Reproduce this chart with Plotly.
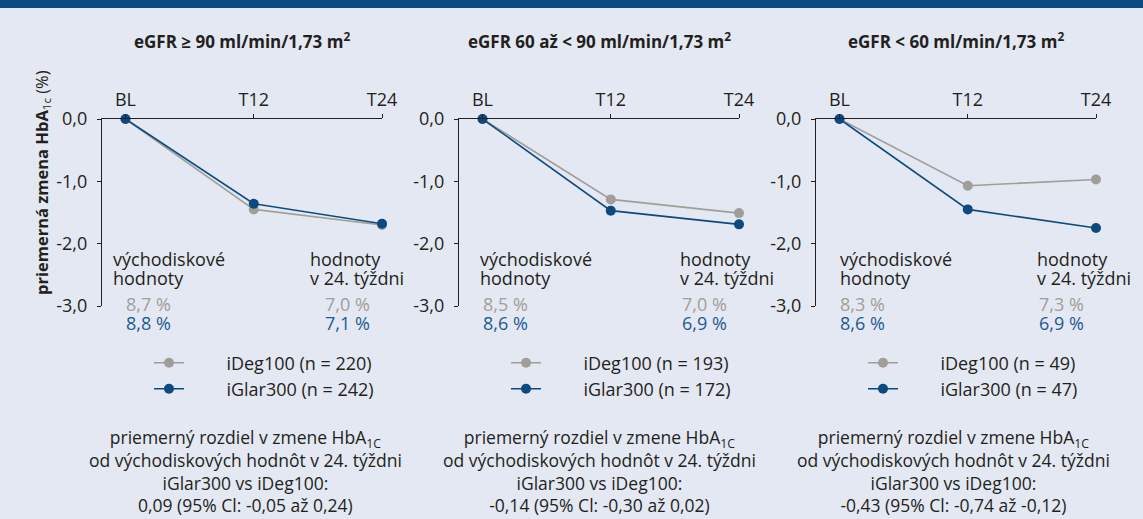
import plotly.graph_objects as go

# ---------------- data ----------------
weeks = [0, 12, 24]
tick_labels = ["BL", "T12", "T24"]
y_tickvals = [0, -1, -2, -3]
y_ticktext = ["0,0", "-1,0", "-2,0", "-3,0"]

panel_titles = [
    "eGFR ≥ 90 ml/min/1,73 m<sup>2</sup>",
    "eGFR 60 až < 90 ml/min/1,73 m<sup>2</sup>",
    "eGFR < 60 ml/min/1,73 m<sup>2</sup>",
]
ideg_change = [[0, -1.45, -1.70], [0, -1.29, -1.51], [0, -1.07, -0.97]]
iglar_change = [[0, -1.36, -1.68], [0, -1.47, -1.69], [0, -1.45, -1.75]]
ideg_n = [220, 193, 49]
iglar_n = [242, 172, 47]
ideg_baseline = ["8,7 %", "8,5 %", "8,3 %"]
iglar_baseline = ["8,8 %", "8,6 %", "8,6 %"]
ideg_week24 = ["7,0 %", "7,0 %", "7,3 %"]
iglar_week24 = ["7,1 %", "6,9 %", "6,9 %"]
diff_text = [
    "0,09 (95% Cl: -0,05 až 0,24)",
    "-0,14 (95% Cl: -0,30 až 0,02)",
    "-0,43 (95% Cl: -0,74 až -0,12)",
]

# ---------------- style ----------------
W, H = 1143, 519
FONT = "Open Sans"
BG = "#e4e8f2"
NAVY = "#0c4a82"
GRAY = "#a19e9a"
BLUE = "#0b4a80"
BLUE_TXT = "#1d5a92"
TXT = "#231f20"
FS = 18

def px(x):
    return x / W

def py(y):
    return 1 - y / H

axis_left = [102, 459, 816]
axis_width = 280
y_top, y_bot = 119, 306
centers = [245, 599, 953]
left_txt = [(111, 124), (478, 481), (838, 838)]
right_txt = [(308, 323), (678, 680), (1035, 1037)]
legend_x = [149, 506, 863]
legend_y = [363, 389]
PAD = "\u00a0" * 8

fig = go.Figure()
annotations = []
legend_layout = {}

for i in range(3):
    xa = "x" if i == 0 else f"x{i+1}"
    ya = "y" if i == 0 else f"y{i+1}"
    sfx = "" if i == 0 else str(i + 1)
    series = [
        (ideg_change[i], GRAY, f"iDeg100 (n = {ideg_n[i]})"),
        (iglar_change[i], BLUE, f"iGlar300 (n = {iglar_n[i]})"),
    ]
    for j, (vals, col, name) in enumerate(series):
        k = 2 * i + j + 1
        leg = "legend" if k == 1 else f"legend{k}"
        fig.add_trace(go.Scatter(
            x=weeks, y=vals, mode="lines+markers",
            line=dict(color=col, width=1.6), marker=dict(color=col, size=10),
            name=PAD + name, xaxis=xa, yaxis=ya,
            legend=leg, cliponaxis=False))
        legend_layout[leg] = dict(
            x=px(legend_x[i]), y=py(legend_y[j]), xanchor="left", yanchor="middle",
            bgcolor="rgba(0,0,0,0)", borderwidth=0,
            font=dict(family=FONT, size=FS, color=TXT),
            itemwidth=30, itemclick=False, itemdoubleclick=False)

    fig.update_layout(**{
        f"xaxis{sfx}": dict(
            domain=[px(axis_left[i]), px(axis_left[i] + axis_width)],
            anchor=ya, side="top",
            range=[-2.2, 24], tickvals=weeks, ticktext=tick_labels,
            ticks="outside", ticklen=4, tickcolor=TXT, tickwidth=1.2,
            showline=True, linecolor=TXT, linewidth=1.3,
            showgrid=False, zeroline=False,
            tickfont=dict(family=FONT, size=FS, color=TXT),
            ticklabelstandoff=1, fixedrange=True),
        f"yaxis{sfx}": dict(
            domain=[py(y_bot), py(y_top)], anchor=xa,
            range=[-3, 0], tickvals=y_tickvals, ticktext=y_ticktext,
            ticks="outside", ticklen=4, tickcolor=TXT, tickwidth=1.2,
            showline=True, linecolor=TXT, linewidth=1.3,
            showgrid=False, zeroline=False,
            tickfont=dict(family=FONT, size=FS, color=TXT),
            ticklabelstandoff=6, fixedrange=True),
    })

    # panel title
    annotations.append(dict(
        x=px(axis_left[i] + axis_width / 2), y=py(40), xref="paper", yref="paper",
        text=f"<b>{panel_titles[i]}</b>", showarrow=False,
        font=dict(family=FONT, size=17, color=TXT), xanchor="center", yanchor="middle"))
    # baseline / week-24 labels
    for txt, yy in [("východiskové", 259), ("hodnoty", 278)]:
        annotations.append(dict(x=px(left_txt[i][0]), y=py(yy), xref="paper", yref="paper",
                                text=txt, showarrow=False, xanchor="left", yanchor="middle",
                                font=dict(family=FONT, size=FS, color=TXT)))
    for txt, yy in [("hodnoty", 259), ("v 24. týždni", 278)]:
        annotations.append(dict(x=px(right_txt[i][0]), y=py(yy), xref="paper", yref="paper",
                                text=txt, showarrow=False, xanchor="left", yanchor="middle",
                                font=dict(family=FONT, size=FS, color=TXT)))
    for txt, col, yy in [(ideg_baseline[i], GRAY, 304), (iglar_baseline[i], BLUE_TXT, 323)]:
        annotations.append(dict(x=px(left_txt[i][1]), y=py(yy), xref="paper", yref="paper",
                                text=txt, showarrow=False, xanchor="left", yanchor="middle",
                                font=dict(family=FONT, size=FS, color=col)))
    for txt, col, yy in [(ideg_week24[i], GRAY, 304), (iglar_week24[i], BLUE_TXT, 323)]:
        annotations.append(dict(x=px(right_txt[i][1]), y=py(yy), xref="paper", yref="paper",
                                text=txt, showarrow=False, xanchor="left", yanchor="middle",
                                font=dict(family=FONT, size=FS, color=col)))
    # bottom text block
    lines = ["priemerný rozdiel v zmene HbA<sub>1C</sub>",
             "od východiskových hodnôt v 24. týždni",
             "iGlar300 vs iDeg100:",
             diff_text[i]]
    annotations.append(dict(x=px(centers[i]), y=py(471), xref="paper", yref="paper",
                            text="<br>".join(lines), showarrow=False, align="center",
                            xanchor="center", yanchor="middle",
                            font=dict(family=FONT, size=17.5, color=TXT)))

# y-axis title
annotations.append(dict(
    x=px(42), y=py(183), xref="paper", yref="paper", textangle=-90,
    text="<b>priemerná zmena HbA</b><sub>1c</sub> (%)", showarrow=False,
    xanchor="center", yanchor="middle",
    font=dict(family=FONT, size=16.5, color=TXT)))

fig.update_layout(
    width=W, height=H, margin=dict(l=0, r=0, t=0, b=0, autoexpand=False),
    paper_bgcolor=BG, plot_bgcolor=BG,
    annotations=annotations,
    shapes=[dict(type="rect", xref="paper", yref="paper", x0=0, x1=1,
                 y0=py(8), y1=1, fillcolor=NAVY, line=dict(width=0), layer="above")],
    showlegend=True,
    **legend_layout,
)

fig.write_html(
    "out.html",
    config={"displayModeBar": False},
    post_script="document.body.style.margin='0';document.body.style.overflow='hidden';",
)
